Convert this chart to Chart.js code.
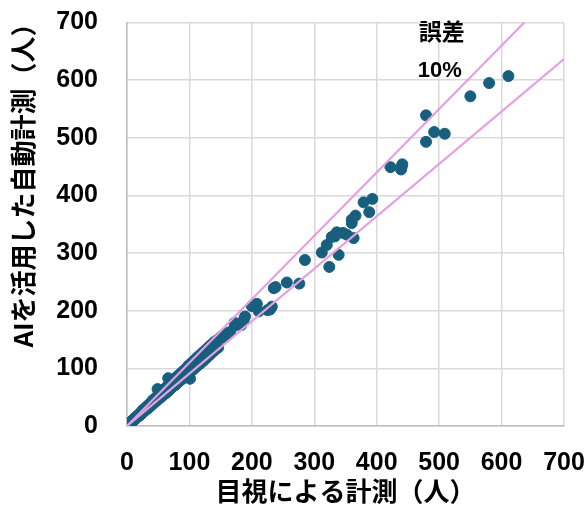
<!DOCTYPE html>
<html lang="ja">
<head>
<meta charset="utf-8">
<script src="https://cdn.jsdelivr.net/npm/chart.js@4.4.1/dist/chart.umd.min.js"></script>
<style>
  html, body { margin: 0; padding: 0; background: #fff; }
  #wrap { width: 586px; height: 507px; position: relative; }
</style>
</head>
<body>
<div id="wrap"><canvas id="accuracyChart"></canvas></div>
<script>
// 目視による計測 (x) と AI自動計測 (y) の人数
const visualCounts = [
  0, 1, 2, 3, 4, 5, 5, 6, 7, 8, 8, 10, 10, 11, 12, 13, 14, 15, 16, 17,
  18, 19, 20, 21, 22, 23, 24, 25, 26, 27, 28, 29, 30, 31, 32, 33, 34, 35, 36, 37,
  38, 39, 40, 41, 42, 43, 44, 45, 46, 47, 48, 49, 49, 50, 51, 52, 53, 54, 55, 56,
  57, 58, 59, 60, 61, 62, 63, 64, 65, 66, 66, 67, 68, 69, 70, 71, 72, 73, 74, 75,
  76, 77, 78, 79, 80, 81, 82, 83, 84, 85, 86, 87, 88, 89, 90, 91, 92, 93, 94, 95,
  96, 97, 98, 99, 101, 100, 102, 103, 105, 106, 108, 109, 111, 112, 114, 115, 117, 118, 120, 121,
  123, 124, 126, 127, 129, 131, 133, 135, 137, 139, 141, 143, 146, 148, 151, 155, 157, 160, 165, 172,
  173, 183, 187, 189, 200, 205, 208, 211, 225, 229, 232, 235, 238, 256, 276, 285, 312, 320, 324, 328,
  333, 336, 339, 346, 352, 360, 360, 363, 366, 379, 388, 393, 422, 439, 440, 441, 479, 479, 492, 509,
  550, 580, 611
];
const aiCounts = [
  0, 1, 2, 3, 4, 5, 6, 5, 7, 9, 7, 10, 11, 10, 13, 12, 15, 14, 17, 16,
  19, 17, 21, 19, 23, 21, 26, 23, 28, 25, 30, 27, 32, 29, 34, 30, 36, 32, 38, 34,
  40, 36, 43, 38, 45, 40, 47, 42, 49, 44, 51, 64, 45, 53, 48, 55, 49, 57, 51, 59,
  53, 61, 55, 64, 56, 66, 58, 68, 60, 83, 70, 62, 72, 64, 74, 66, 77, 68, 79, 70,
  81, 71, 83, 73, 85, 75, 87, 77, 89, 79, 91, 81, 93, 82, 95, 84, 97, 86, 99, 88,
  101, 90, 104, 91, 82, 106, 95, 109, 97, 112, 100, 115, 103, 118, 106, 121, 108, 124, 111, 127,
  114, 130, 117, 133, 120, 137, 124, 141, 128, 145, 132, 148, 136, 152, 155, 153, 156, 161, 163, 179,
  174, 175, 184, 190, 208, 210, 212, 199, 201, 202, 207, 239, 241, 249, 247, 288, 301, 314, 276, 328,
  329, 336, 297, 335, 332, 352, 358, 326, 365, 388, 371, 394, 449, 445, 450, 454, 539, 493, 510, 507,
  572, 595, 607
];

// ±10% guide lines (y = 1.1x, y = x / 1.1)
const upperGuide = [{ x: 0, y: 0 }, { x: 700, y: 770 }];
const lowerGuide = [{ x: 0, y: 0 }, { x: 700, y: 636.4 }];

const axisTicks = [0, 100, 200, 300, 400, 500, 600, 700];

const xTitle = '目視による計測（人）';
const yTitle = 'AIを活用した自動計測（人）';
const noteLines = [
  { text: '誤差', x: 504, y: 685, font: 'bold 23px "Noto Sans CJK JP"' },
  { text: '10%', x: 501, y: 616, font: 'bold 22px "Liberation Sans"' }
];

const pointColor = '#185f7e';
const guideColor = '#e3a1e1';
const gridColor = '#d9d9d9';
const tickFont = { family: '"Liberation Sans", Arial, sans-serif', size: 25, weight: 'bold' };
const titleFont = { family: '"Noto Sans CJK JP", sans-serif', size: 26, weight: 'bold' };

const scatterPoints = visualCounts.map((v, i) => ({ x: v, y: aiCounts[i] }));

// note text ("誤差" / "10%") and the rotated y-axis title
const chartTextPlugin = {
  id: 'chartText',
  afterDatasetsDraw(chart) {
    const { ctx, scales: { x, y } } = chart;
    ctx.save();
    ctx.fillStyle = '#000';
    ctx.textAlign = 'center';
    ctx.textBaseline = 'middle';
    noteLines.forEach(n => {
      ctx.font = n.font;
      ctx.fillText(n.text, x.getPixelForValue(n.x), y.getPixelForValue(n.y));
    });
    // y title sits a bit above the plot's vertical centre in the original
    ctx.font = `bold ${titleFont.size}px ${titleFont.family}`;
    ctx.translate(23.5, 179);
    ctx.rotate(-Math.PI / 2);
    ctx.fillText(yTitle, 0, 0);
    ctx.restore();
  }
};

const ctx = document.getElementById('accuracyChart').getContext('2d');
new Chart(ctx, {
  type: 'scatter',
  data: {
    datasets: [
      {
        type: 'line',
        data: upperGuide,
        borderColor: guideColor,
        borderWidth: 2.2,
        pointRadius: 0,
        fill: false
      },
      {
        type: 'line',
        data: lowerGuide,
        borderColor: guideColor,
        borderWidth: 2.2,
        pointRadius: 0,
        fill: false
      },
      {
        data: scatterPoints,
        backgroundColor: pointColor,
        borderColor: pointColor,
        pointRadius: 5.5,
        pointHoverRadius: 5.5
      }
    ]
  },
  options: {
    responsive: true,
    maintainAspectRatio: false,
    animation: false,
    layout: {
      padding: { top: 22.5, right: 22, left: 0, bottom: 0 }
    },
    plugins: {
      legend: { display: false },
      tooltip: { enabled: false }
    },
    scales: {
      x: {
        type: 'linear',
        min: 0,
        max: 700,
        afterBuildTicks: (scale) => { scale.ticks = axisTicks.map(v => ({ value: v })); },
        afterFit: (scale) => {
          scale.height = 81;
          scale.paddingLeft = 0;
          scale.paddingRight = 0;
        },
        grid: { color: gridColor, lineWidth: 1.5, drawTicks: false },
        border: { color: '#bfbfbf', width: 1.5 },
        ticks: { color: '#000', font: tickFont, padding: 22, maxRotation: 0 },
        title: {
          display: true,
          text: xTitle,
          color: '#000',
          font: titleFont,
          padding: { top: 0, bottom: 0 }
        }
      },
      y: {
        type: 'linear',
        min: 0,
        max: 700,
        afterBuildTicks: (scale) => { scale.ticks = axisTicks.map(v => ({ value: v })); },
        afterFit: (scale) => {
          scale.width = 127;
          scale.paddingTop = 0;
          scale.paddingBottom = 0;
        },
        grid: { color: gridColor, lineWidth: 1.5, drawTicks: false },
        border: { color: '#bfbfbf', width: 1.5 },
        ticks: { color: '#000', font: tickFont, padding: 29 },
        title: { display: false }
      }
    }
  },
  plugins: [chartTextPlugin]
});
</script>
</body>
</html>
